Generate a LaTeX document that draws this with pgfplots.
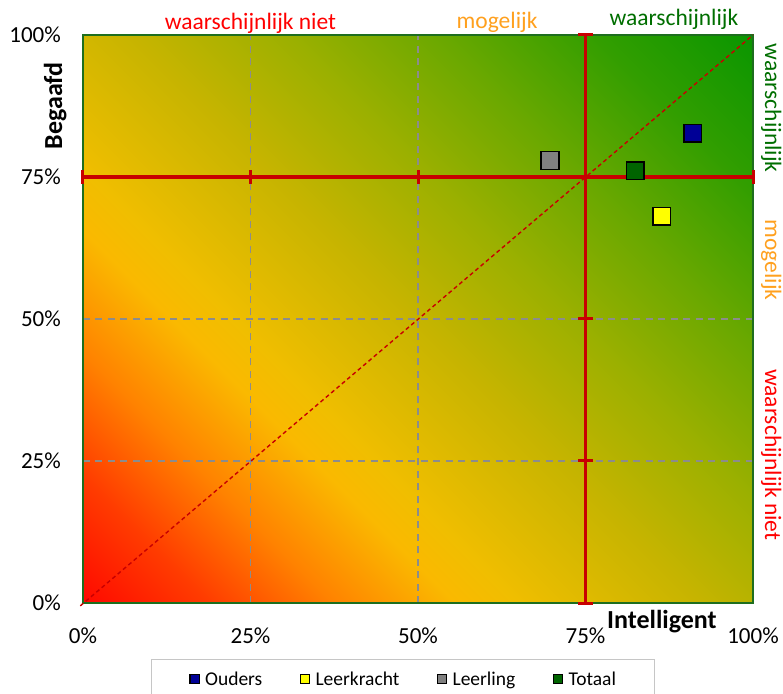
\documentclass[border=0pt]{standalone}
\usepackage{fontspec}
\setmainfont{Carlito}
\usepackage{pgfplots}
\pgfplotsset{compat=1.18}

% colours
\definecolor{ouders}{RGB}{0,0,150}
\definecolor{leerkracht}{RGB}{255,255,0}
\definecolor{leerling}{RGB}{128,128,128}
\definecolor{totaal}{RGB}{0,100,0}
\definecolor{kruis}{RGB}{200,0,0}
\definecolor{rand}{RGB}{30,110,30}
\definecolor{txtrood}{RGB}{255,0,0}
\definecolor{txtoranje}{RGB}{255,160,30}
\definecolor{txtgroen}{RGB}{0,110,0}

% background: red -> yellow -> green along the diagonal
\definecolor{g0}{RGB}{255,10,0}
\definecolor{g1}{RGB}{255,60,0}
\definecolor{g2}{RGB}{255,130,0}
\definecolor{g3}{RGB}{250,185,0}
\definecolor{g4}{RGB}{240,190,0}
\definecolor{g5}{RGB}{198,180,0}
\definecolor{g6}{RGB}{155,176,0}
\definecolor{g7}{RGB}{105,168,0}
\definecolor{g8}{RGB}{50,158,0}
\definecolor{g9}{RGB}{10,150,0}
\pgfdeclarehorizontalshading{zone}{100bp}{color(0bp)=(g0); color(14.64bp)=(g0);
  color(21.72bp)=(g1); color(28.79bp)=(g2); color(35.86bp)=(g3); color(39.39bp)=(g4);
  color(50bp)=(g5); color(58.84bp)=(g6); color(67.68bp)=(g7); color(76.52bp)=(g8);
  color(85.36bp)=(g9); color(100bp)=(g9)}

\begin{document}
\begin{tikzpicture}
\begin{axis}[
  scale only axis,
  width=670bp, height=568bp,
  xmin=0, xmax=1, ymin=0, ymax=1,
  clip=false,
  axis background/.style={shade, shading=zone, shading angle=45},
  axis line style={draw=rand, line width=1.5bp},
  xtick={0,0.25,0.5,0.75,1}, ytick={0,0.25,0.5,0.75,1},
  xticklabels={0\%,25\%,50\%,75\%,100\%},
  yticklabels={0\%,25\%,50\%,75\%,100\%},
  major tick length=0pt,
  grid=major,
  grid style={draw=gray!90, line width=1.8bp, dash pattern=on 7bp off 5.5bp},
  xticklabel style={font=\fontsize{23bp}{27bp}\selectfont, inner sep=0pt, anchor=base, yshift=-40bp},
  yticklabel style={font=\fontsize{23bp}{27bp}\selectfont, inner sep=0pt, anchor=east, xshift=-22bp},
  xlabel={Intelligent},
  ylabel={Begaafd},
  every axis x label/.style={at={(axis description cs:0.864,-0.045)}, anchor=base,
    font=\fontsize{26bp}{30bp}\selectfont\bfseries},
  every axis y label/.style={at={(axis description cs:-0.0313,0.875)}, rotate=90, anchor=base,
    font=\fontsize{26bp}{30bp}\selectfont\bfseries},
  legend columns=4,
  legend style={at={(axis description cs:0.4776,-0.0986)}, anchor=north,
    draw=gray!45, line width=1bp, inner xsep=38.5bp, inner ysep=10bp,
    font=\fontsize{19.5bp}{23bp}\selectfont,
    nodes={inner xsep=0bp, inner ysep=2bp},
    /tikz/every odd column/.append style={column sep=6bp},
    /tikz/every even column/.append style={column sep=38bp}},
  legend cell align=left,
  legend image code/.code={\draw[mark repeat=1,#1,mark size=4.6bp,line width=1.2bp] plot coordinates {(5bp,0bp)};},
]
% diagonal
\addplot[forget plot, draw=kruis, line width=1.4bp, dash pattern=on 4bp off 3bp]
  coordinates {(-0.004,-0.005) (1,1)};
% cross at 75% / 75%
\addplot[forget plot, draw=kruis, line width=3.5bp] coordinates {(0.75,0) (0.75,1)};
\addplot[forget plot, draw=kruis, line width=3.5bp] coordinates {(0,0.75) (1,0.75)};
\addplot[forget plot, only marks, mark=-, mark size=7.5bp, draw=kruis, line width=3bp]
  coordinates {(0.75,0) (0.75,0.25) (0.75,0.5) (0.75,1)};
\addplot[forget plot, only marks, mark=|, mark size=7bp, draw=kruis, line width=3bp]
  coordinates {(0,0.75) (0.25,0.75) (0.5,0.75) (1,0.75)};
% groups
\addplot[only marks, mark=square*, mark size=8.8bp, draw=black, fill=ouders, line width=1.5bp]
  coordinates {(0.910,0.827)};
\addlegendentry{Ouders}
\addplot[only marks, mark=square*, mark size=8.8bp, draw=black, fill=leerkracht, line width=1.5bp]
  coordinates {(0.864,0.681)};
\addlegendentry{Leerkracht}
\addplot[only marks, mark=square*, mark size=8.8bp, draw=black, fill=leerling, line width=1.5bp]
  coordinates {(0.697,0.779)};
\addlegendentry{Leerling}
\addplot[only marks, mark=square*, mark size=8.8bp, draw=black, fill=totaal, line width=1.5bp]
  coordinates {(0.824,0.761)};
\addlegendentry{Totaal}
% zone labels
\node[anchor=base, text=txtrood, font=\fontsize{23.5bp}{27bp}\selectfont]
  at (axis description cs:0.25,1.010) {waarschijnlijk niet};
\node[anchor=base, text=txtoranje, font=\fontsize{23.5bp}{27bp}\selectfont]
  at (axis description cs:0.618,1.012) {mogelijk};
\node[anchor=base, text=txtgroen, font=\fontsize{23.5bp}{27bp}\selectfont]
  at (axis description cs:0.882,1.016) {waarschijnlijk};
\node[anchor=base, rotate=-90, text=txtgroen, font=\fontsize{23.5bp}{27bp}\selectfont]
  at (axis description cs:1.018,0.871) {waarschijnlijk};
\node[anchor=base, rotate=-90, text=txtoranje, font=\fontsize{23.5bp}{27bp}\selectfont]
  at (axis description cs:1.018,0.604) {mogelijk};
\node[anchor=base, rotate=-90, text=txtrood, font=\fontsize{23.5bp}{27bp}\selectfont]
  at (axis description cs:1.018,0.261) {waarschijnlijk niet};
\end{axis}
\pgfresetboundingbox
\useasboundingbox (-83bp,-91bp) rectangle (700bp,603bp);
\end{tikzpicture}
\end{document}
